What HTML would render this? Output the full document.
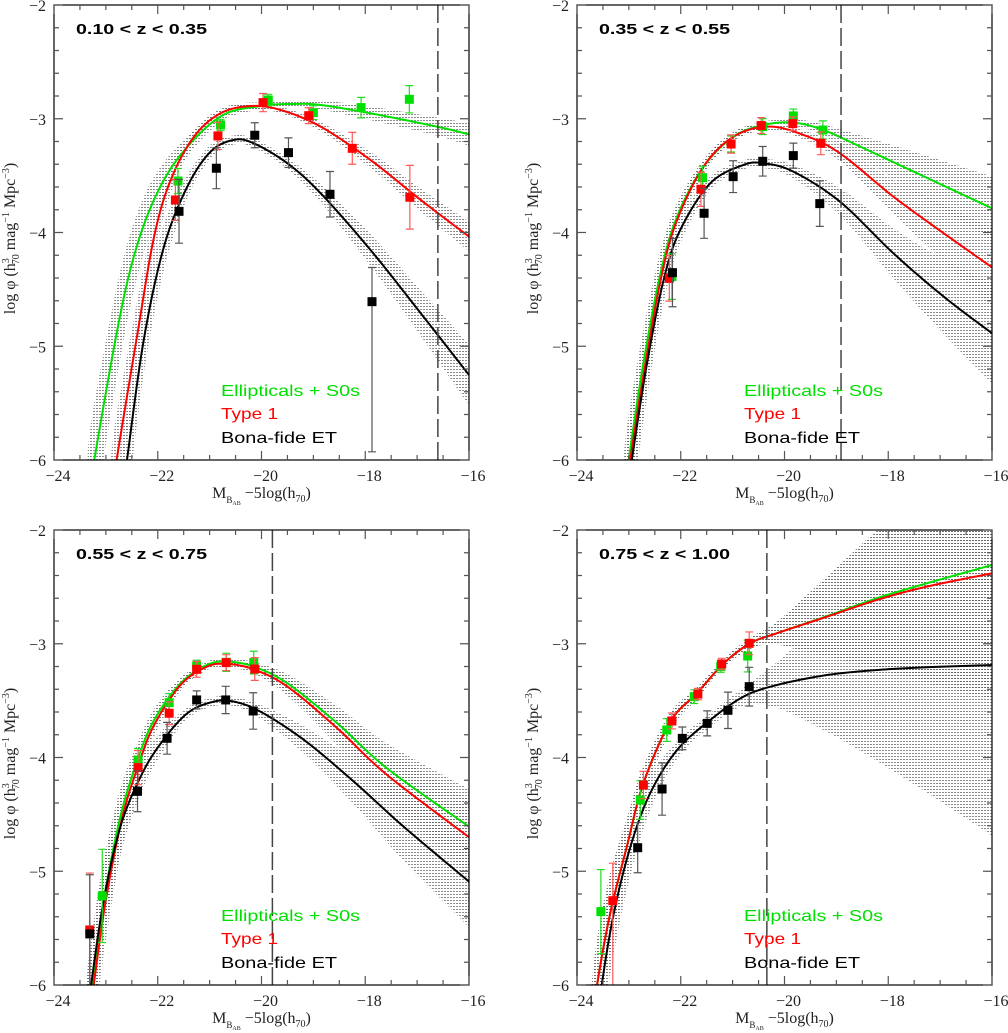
<!DOCTYPE html>
<html><head><meta charset="utf-8"><style>
html,body{margin:0;padding:0;background:#fff;}
svg{display:block;}
text{font-family:"Liberation Serif",serif;}
.ttl{font-family:"Liberation Sans",sans-serif;font-weight:bold;font-size:15px;}
.leg{font-family:"Liberation Sans",sans-serif;font-size:16px;}
</style></head><body>
<svg id="fig" width="1008" height="1033" viewBox="0 0 1008 1033" xmlns="http://www.w3.org/2000/svg">
<defs>
<pattern id="hatch" width="3" height="3" patternUnits="userSpaceOnUse"><rect x="0" y="0" width="2" height="1" fill="#666"/></pattern>
</defs>
<rect width="1008" height="1033" fill="#fff"/>
</svg>
<script>
// ===== Panel 1 : 0.10 < z < 0.35 =====
const p1GreenMag=[-23.35,-23.22,-22.78,-22.46,-22.07,-21.56,-20.79,-20.02,-19.38,-18.86,-17.9,-16.61,-16.0];
const p1GreenLog=[-6.4,-5.99,-4.857,-4.21,-3.71,-3.318,-2.98,-2.888,-2.87,-2.879,-2.952,-3.07,-3.137];
const p1GreenBand=[.5,.5,.4,.3,.2,.1,.05,.03,.03,.04,.06,.08,.1];
const p1RedMag=[-22.9,-22.79,-22.39,-22.07,-21.75,-21.30,-20.79,-20.21,-19.63,-18.86,-17.9,-16.93,-16.0];
const p1RedLog=[-6.35,-5.99,-4.886,-4.036,-3.538,-3.157,-2.952,-2.888,-2.923,-3.069,-3.362,-3.714,-4.036];
const p1RedBand=[.4,.4,.3,.2,.12,.06,.04,.03,.03,.04,.07,.1,.13];
const p1BlackMag=[-22.68,-22.59,-22.27,-21.88,-21.43,-20.98,-20.53,-20.15,-19.50,-18.86,-17.9,-16.93,-16.0];
const p1BlackLog=[-6.3,-5.99,-4.945,-4.124,-3.597,-3.289,-3.186,-3.216,-3.392,-3.655,-4.153,-4.71,-5.252];
const p1BlackBand=[.4,.4,.3,.2,.1,.06,.04,.04,.05,.08,.14,.2,.27];
const p1GreenPtMag=[-21.61,-20.79,-19.87,-19.0,-18.08,-17.15];
const p1GreenPtLog=[-3.547,-3.055,-2.835,-2.946,-2.902,-2.829];
const p1GreenPtUp=[.11,.05,.05,.06,.09,.12];
const p1GreenPtDn=[.11,.05,.05,.06,.09,.12];
const p1RedPtMag=[-21.66,-20.84,-19.97,-19.09,-18.25,-17.14];
const p1RedPtLog=[-3.714,-3.151,-2.858,-2.973,-3.26,-3.69];
const p1RedPtUp=[.18,.12,.08,.07,.14,.28];
const p1RedPtDn=[.18,.12,.08,.07,.14,.28];
const p1BlackPtMag=[-21.59,-20.87,-20.13,-19.48,-18.68,-17.87];
const p1BlackPtLog=[-3.814,-3.435,-3.145,-3.298,-3.664,-4.608];
const p1BlackPtUp=[.28,.18,.11,.13,.2,.3];
const p1BlackPtDn=[.28,.18,.11,.13,.2,1.32];

// ===== Panel 2 : 0.35 < z < 0.55 =====
const p2GreenMag=[-23.1,-23.0,-22.72,-22.39,-22.07,-21.56,-20.98,-20.40,-19.83,-19.25,-18.54,-17.58,-16.0];
const p2GreenLog=[-6.35,-5.99,-5.15,-4.359,-3.86,-3.421,-3.157,-3.055,-3.034,-3.099,-3.245,-3.45,-3.787];
const p2GreenBand=[.4,.4,.3,.2,.12,.06,.04,.03,.03,.05,.1,.17,.28];
const p2RedMag=[-23.07,-22.97,-22.68,-22.36,-22.07,-21.56,-20.98,-20.31,-19.63,-18.93,-17.9,-16.93,-16.0];
const p2RedLog=[-6.35,-5.99,-5.15,-4.359,-3.89,-3.42,-3.157,-3.069,-3.143,-3.304,-3.685,-4.007,-4.306];
const p2RedBand=[.4,.4,.3,.2,.12,.06,.04,.03,.04,.07,.15,.25,.35];
const p2BlackMag=[-23.04,-22.94,-22.65,-22.33,-22.01,-21.43,-20.79,-20.40,-19.83,-18.93,-17.9,-16.93,-16.0];
const p2BlackLog=[-6.35,-5.99,-5.15,-4.417,-3.978,-3.567,-3.406,-3.392,-3.465,-3.729,-4.183,-4.564,-4.886];
const p2BlackBand=[.4,.4,.3,.2,.12,.06,.04,.04,.06,.12,.22,.33,.44];
const p2GreenPtMag=[-22.17,-21.58,-21.03,-20.42,-19.83,-19.26];
const p2GreenPtLog=[-4.388,-3.518,-3.222,-3.069,-2.975,-3.099];
const p2GreenPtUp=[.2,.1,.07,.07,.06,.08];
const p2GreenPtDn=[.2,.1,.07,.07,.06,.08];
const p2RedPtMag=[-22.22,-21.61,-21.03,-20.45,-19.84,-19.3];
const p2RedPtLog=[-4.403,-3.62,-3.222,-3.06,-3.043,-3.216];
const p2RedPtUp=[.2,.15,.08,.07,.06,.1];
const p2RedPtDn=[.2,.15,.08,.07,.06,.1];
const p2BlackPtMag=[-22.16,-21.55,-20.99,-20.42,-19.83,-19.32];
const p2BlackPtLog=[-4.353,-3.831,-3.509,-3.374,-3.324,-3.746];
const p2BlackPtUp=[.3,.22,.14,.13,.11,.2];
const p2BlackPtDn=[.3,.22,.14,.13,.11,.2];

// ===== Panel 3 : 0.55 < z < 0.75 =====
const p3GreenMag=[-23.36,-23.26,-23.04,-22.72,-22.39,-22.07,-21.56,-21.05,-20.66,-20.15,-19.50,-18.54,-17.58,-16.0];
const p3GreenLog=[-6.35,-5.985,-5.252,-4.52,-4.022,-3.67,-3.348,-3.186,-3.157,-3.201,-3.348,-3.699,-4.095,-4.608];
const p3GreenBand=[.4,.4,.35,.25,.15,.1,.05,.03,.03,.04,.08,.15,.22,.33];
const p3RedMag=[-23.33,-23.23,-23.0,-22.68,-22.36,-22.07,-21.56,-21.05,-20.66,-20.15,-19.50,-18.54,-17.58,-16.0];
const p3RedLog=[-6.35,-5.985,-5.252,-4.52,-4.051,-3.714,-3.362,-3.201,-3.178,-3.225,-3.377,-3.743,-4.153,-4.701];
const p3RedBand=[.4,.4,.35,.25,.15,.1,.05,.03,.03,.04,.08,.15,.22,.33];
const p3BlackMag=[-23.38,-23.28,-23.04,-22.72,-22.33,-21.94,-21.43,-20.92,-20.53,-20.02,-19.18,-18.22,-17.26,-16.0];
const p3BlackLog=[-6.35,-5.985,-5.252,-4.608,-4.168,-3.875,-3.611,-3.509,-3.509,-3.597,-3.846,-4.212,-4.608,-5.091];
const p3BlackBand=[.4,.4,.35,.25,.15,.1,.05,.04,.04,.06,.12,.2,.3,.4];
const p3GreenPtMag=[-23.07,-22.38,-21.78,-21.25,-20.68,-20.15];
const p3GreenPtLog=[-5.217,-4.022,-3.518,-3.195,-3.163,-3.166];
const p3GreenPtUp=[.41,.1,.08,.05,.08,.1];
const p3GreenPtDn=[.41,.1,.08,.05,.08,.1];
const p3RedPtMag=[-23.31,-22.38,-21.78,-21.25,-20.68,-20.13];
const p3RedPtLog=[-5.516,-4.089,-3.611,-3.225,-3.166,-3.222];
const p3RedPtUp=[.5,.15,.1,.07,.07,.1];
const p3RedPtDn=[.5,.15,.1,.07,.07,.1];
const p3BlackPtMag=[-23.31,-22.39,-21.82,-21.25,-20.69,-20.16];
const p3BlackPtLog=[-5.551,-4.297,-3.831,-3.494,-3.494,-3.591];
const p3BlackPtUp=[.52,.18,.14,.08,.12,.16];
const p3BlackPtDn=[.52,.18,.14,.08,.12,.16];

// ===== Panel 4 : 0.75 < z < 1.00 =====
const p4GreenMag=[-23.72,-23.61,-23.36,-23.04,-22.72,-22.20,-21.69,-21.17,-20.66,-20.15,-19.18,-18.22,-17.26,-16.0];
const p4GreenLog=[-6.4,-5.99,-5.37,-4.784,-4.227,-3.685,-3.436,-3.172,-2.996,-2.908,-2.757,-2.6,-2.469,-2.308];
const p4GreenBand=[.4,.4,.35,.25,.15,.08,.05,.04,.05,.1,.35,.6,.85,1.1];
const p4RedMag=[-23.72,-23.61,-23.36,-23.04,-22.72,-22.20,-21.69,-21.17,-20.66,-20.15,-19.18,-18.22,-17.26,-16.0];
const p4RedLog=[-6.4,-5.99,-5.37,-4.784,-4.227,-3.685,-3.436,-3.172,-2.996,-2.908,-2.762,-2.615,-2.498,-2.381];
const p4RedBand=[.4,.4,.35,.25,.15,.08,.05,.04,.05,.1,.35,.6,.85,1.1];
const p4BlackMag=[-23.62,-23.52,-23.29,-22.97,-22.59,-22.07,-21.43,-20.79,-20.15,-19.18,-18.22,-17.26,-16.0];
const p4BlackLog=[-6.4,-5.99,-5.37,-4.784,-4.315,-3.934,-3.67,-3.465,-3.363,-3.275,-3.231,-3.207,-3.187];
const p4BlackBand=[.4,.4,.35,.25,.15,.08,.06,.08,.2,.5,.8,1.1,1.5];
const p4GreenPtMag=[-23.54,-22.78,-22.27,-21.74,-21.23,-20.71];
const p4GreenPtLog=[-5.355,-4.374,-3.758,-3.465,-3.201,-3.108];
const p4GreenPtUp=[.37,.17,.1,.06,.05,.14];
const p4GreenPtDn=[.37,.17,.1,.06,.05,.14];
const p4RedPtMag=[-23.31,-22.72,-22.17,-21.67,-21.21,-20.68];
const p4RedPtLog=[-5.259,-4.242,-3.679,-3.442,-3.178,-2.996];
const p4RedPtUp=[.33,.12,.07,.05,.05,.1];
const p4RedPtDn=[.75,.12,.07,.05,.05,.1];
const p4BlackPtMag=[-22.83,-22.36,-21.97,-21.49,-21.09,-20.68];
const p4BlackPtLog=[-4.793,-4.277,-3.832,-3.7,-3.585,-3.377];
const p4BlackPtUp=[.22,.23,.1,.11,.16,.17];
const p4BlackPtDn=[.22,.23,.1,.11,.16,.17];

const panelTitles=["0.10 < z < 0.35","0.35 < z < 0.55","0.55 < z < 0.75","0.75 < z < 1.00"];
const completenessMag=[-16.6,-18.91,-19.79,-20.34];
const xTickLabels=[-24,-22,-20,-18,-16];
const yTickLabels=[-2,-3,-4,-5,-6];
const legendLabels=["Ellipticals + S0s","Type 1","Bona-fide ET"];

const NS="http://www.w3.org/2000/svg";
const svg=document.getElementById('fig');
const W=415,H=455,XMIN=-24,XMAX=-16,YMIN=-6,YMAX=-2;
const origins=[[54,5],[577,5],[54,530],[577,530]];
const COL={g:'#00e000',r:'#ff0000',k:'#000000'};
const ECOL={g:'#22dd22',r:'#ff5a5a',k:'#555555'};
const panels=[
 {curves:[[p1GreenMag,p1GreenLog,p1GreenBand,'g'],[p1RedMag,p1RedLog,p1RedBand,'r'],[p1BlackMag,p1BlackLog,p1BlackBand,'k']],
  pts:[[p1GreenPtMag,p1GreenPtLog,p1GreenPtUp,p1GreenPtDn,'g'],[p1RedPtMag,p1RedPtLog,p1RedPtUp,p1RedPtDn,'r'],[p1BlackPtMag,p1BlackPtLog,p1BlackPtUp,p1BlackPtDn,'k']],tl:'top'},
 {curves:[[p2GreenMag,p2GreenLog,p2GreenBand,'g'],[p2RedMag,p2RedLog,p2RedBand,'r'],[p2BlackMag,p2BlackLog,p2BlackBand,'k']],
  pts:[[p2GreenPtMag,p2GreenPtLog,p2GreenPtUp,p2GreenPtDn,'g'],[p2RedPtMag,p2RedPtLog,p2RedPtUp,p2RedPtDn,'r'],[p2BlackPtMag,p2BlackPtLog,p2BlackPtUp,p2BlackPtDn,'k']],tl:'top'},
 {curves:[[p3GreenMag,p3GreenLog,p3GreenBand,'g'],[p3RedMag,p3RedLog,p3RedBand,'r'],[p3BlackMag,p3BlackLog,p3BlackBand,'k']],
  pts:[[p3GreenPtMag,p3GreenPtLog,p3GreenPtUp,p3GreenPtDn,'g'],[p3RedPtMag,p3RedPtLog,p3RedPtUp,p3RedPtDn,'r'],[p3BlackPtMag,p3BlackPtLog,p3BlackPtUp,p3BlackPtDn,'k']],tl:'bot'},
 {curves:[[p4GreenMag,p4GreenLog,p4GreenBand,'g'],[p4RedMag,p4RedLog,p4RedBand,'r'],[p4BlackMag,p4BlackLog,p4BlackBand,'k']],
  pts:[[p4GreenPtMag,p4GreenPtLog,p4GreenPtUp,p4GreenPtDn,'g'],[p4RedPtMag,p4RedPtLog,p4RedPtUp,p4RedPtDn,'r'],[p4BlackPtMag,p4BlackPtLog,p4BlackPtUp,p4BlackPtDn,'k']],tl:'bot'}
];
const curveNames={g:'ellipticals-s0s',r:'type-1',k:'bona-fide-et'};

function el(tag,attrs,parent){const e=document.createElementNS(NS,tag);for(const k in attrs)e.setAttribute(k,attrs[k]);(parent||svg).appendChild(e);return e;}
function smooth(px){ // Catmull-Rom sampled
  const out=[];
  for(let i=0;i<px.length-1;i++){
    const p0=px[Math.max(0,i-1)],p1=px[i],p2=px[i+1],p3=px[Math.min(px.length-1,i+2)];
    for(let t=0;t<1;t+=0.05){
      const t2=t*t,t3=t2*t;
      const f=(a,b,c,d)=>0.5*((2*b)+(-a+c)*t+(2*a-5*b+4*c-d)*t2+(-a+3*b-3*c+d)*t3);
      out.push([f(p0[0],p1[0],p2[0],p3[0]),f(p0[1],p1[1],p2[1],p3[1])]);
    }
  }
  out.push(px[px.length-1]);return out;
}
const pstr=a=>a.map(p=>p[0].toFixed(2)+','+p[1].toFixed(2)).join(' ');

panels.forEach((P,pi)=>{
  const [x0,y0]=origins[pi];
  const sx=m=>x0+(m-XMIN)/(XMAX-XMIN)*W;
  const sy=v=>y0+(YMAX-v)/(YMAX-YMIN)*H;
  const g=el('g',{});
  
  
  const cid='clip'+pi;
  const cp=el('clipPath',{id:cid},g);el('rect',{x:x0,y:y0,width:W,height:H},cp);
  const plot=el('g',{'clip-path':'url(#'+cid+')'},g);
  // bands
  P.curves.forEach(c=>{
    const [m,v,b,k]=c;
    const up=smooth(m.map((mm,i)=>[sx(mm),sy(v[i]+b[i])]));
    const lo=smooth(m.map((mm,i)=>[sx(mm),sy(v[i]-b[i])])).reverse();
    const poly=el('polygon',{points:pstr(up.concat(lo)),fill:'url(#hatch)',opacity:'0.75'},plot);
    
    
  });
  // curves
  P.curves.forEach(c=>{
    const [m,v,b,k]=c;
    const pl=el('polyline',{points:pstr(smooth(m.map((mm,i)=>[sx(mm),sy(v[i])]))),fill:'none',stroke:COL[k],'stroke-width':'2'},plot);
    
    
  });
  // completeness line
  const dl=el('line',{x1:sx(completenessMag[pi]),x2:sx(completenessMag[pi]),y1:y0,y2:y0+H,stroke:'#444','stroke-width':'1.5','stroke-dasharray':'18,5'},plot);
  
  
  // points
  P.pts.forEach(s=>{
    const [m,v,u,d,k]=s;
    m.forEach((mm,i)=>{
      const x=sx(mm),y=sy(v[i]);
      const eb=el('path',{d:`M${x},${sy(v[i]+u[i])}V${sy(v[i]-d[i])}M${x-4},${sy(v[i]+u[i])}h8M${x-4},${sy(v[i]-d[i])}h8`,stroke:ECOL[k],'stroke-width':'1.2',fill:'none'},plot);
      
      
      const r=el('rect',{x:x-4.5,y:y-4.5,width:9,height:9,fill:COL[k]},plot);
      
      
    });
  });
  // frame
  const fr=el('rect',{x:x0,y:y0,width:W,height:H,fill:'none',stroke:'#000','stroke-width':'1.2'},g);
  
  
  // ticks
  let td='';
  for(let m=XMIN;m<=XMAX+1e-6;m+=0.5){const x=sx(m);const L=(Math.abs(m%2)<1e-6)?9:5;td+=`M${x},${y0+H}v${-L}M${x},${y0}v${L}`;}
  for(let v=YMIN;v<=YMAX+1e-6;v+=0.2){const y=sy(v);const L=(Math.abs(v-Math.round(v))<1e-6)?9:5;td+=`M${x0},${y}h${L}M${x0+W},${y}h${-L}`;}
  const tk=el('path',{d:td,stroke:'#555','stroke-width':'1.2',fill:'none'},g);
  
  
  xTickLabels.forEach(t=>{
    const tx=el('text',{x:sx(t)+4,y:y0+H+21,'text-anchor':'middle','font-size':'16',fill:'#222'},g);
    tx.textContent='\u2212'+Math.abs(t);
    
    
  });
  yTickLabels.forEach(t=>{
    const ty=el('text',{x:x0-8,y:sy(t)+6,'text-anchor':'end','font-size':'16',fill:'#222'},g);
    ty.textContent='\u2212'+Math.abs(t);
    
    
  });
  // x title
  const xt=el('text',{x:x0+W/2,y:y0+H+38,'text-anchor':'middle','font-size':'16',fill:'#222'},g);
  xt.innerHTML='M<tspan font-size="9" dy="5">B</tspan><tspan font-size="6" dy="2">AB</tspan><tspan dy="-7"> \u22125log(h</tspan><tspan font-size="10" dy="4">70</tspan><tspan dy="-4">)</tspan>';
  
  
  // y title
  const cy=y0+H/2+6, cx=x0-39;
  const yt=el('text',{x:0,y:0,'text-anchor':'middle','font-size':'16',fill:'#222',transform:`translate(${cx},${cy}) rotate(-90)`},g);
  yt.innerHTML='log \u03C6  (h<tspan font-size="10" dy="-6">3</tspan><tspan font-size="10" dx="-6" dy="10">70</tspan><tspan dy="-4"> mag</tspan><tspan font-size="10" dy="-6">\u22121</tspan><tspan dy="6"> Mpc</tspan><tspan font-size="10" dy="-6">\u22123</tspan><tspan dy="6">)</tspan>';
  
  
  // panel title
  const tt=el('text',{x:x0+22,y:y0+29,class:'ttl',fill:'#000',textLength:'131',lengthAdjust:'spacingAndGlyphs'},g);
  tt.textContent=panelTitles[pi];
  
  
  // legend
  const ly=(P.tl==='top')?[y0+391,y0+414,y0+438]:[y0+391,y0+414,y0+438];
  const lc=[COL.g,COL.r,COL.k];
  const lw=[139,57,116];
  legendLabels.forEach((s,i)=>{
    const lt=el('text',{x:x0+167,y:ly[i],class:'leg',fill:lc[i],textLength:lw[i],lengthAdjust:'spacingAndGlyphs'},g);
    lt.textContent=s;
    
    
  });
});
</script>
</body></html>
